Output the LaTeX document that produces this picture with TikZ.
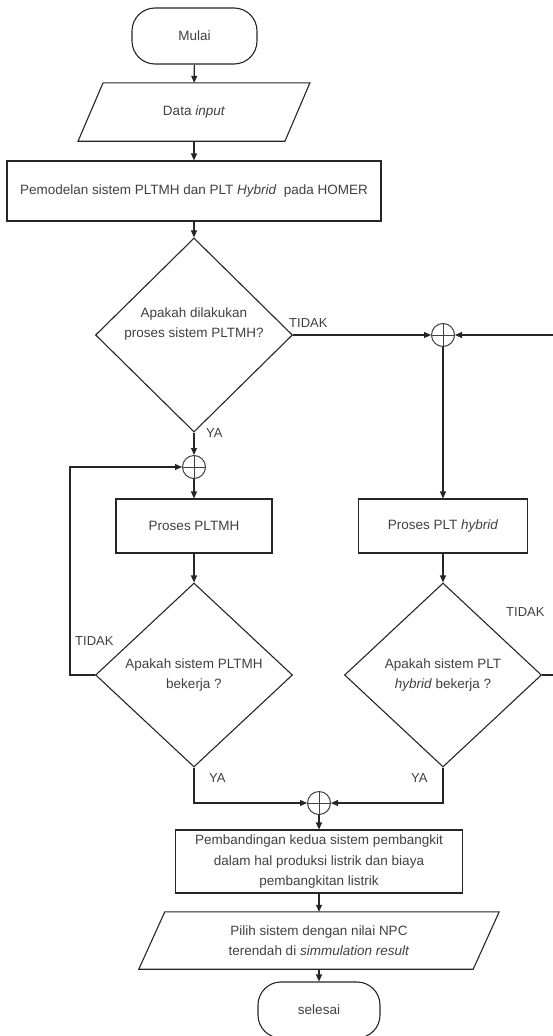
\documentclass[tikz,border=0pt]{standalone}
\usepackage{fontspec}
\setmainfont{Liberation Sans}
\usetikzlibrary{shapes.geometric,arrows.meta}
\begin{document}
\begin{tikzpicture}[x=1pt,y=-1pt,
 every node/.style={font=\fontsize{13.5}{20.5}\selectfont, text=black!75},
 line/.style={draw=black!85, line width=1.1pt},
 arr/.style={line, -{Triangle[length=7pt,width=6pt]}},
 term/.style={draw=black!85, line width=1.1pt, rectangle, rounded corners=23pt, minimum height=56pt, inner sep=0},
 proc/.style={draw=black!85, line width=1.1pt, rectangle, inner sep=0, align=center},
 dec/.style={draw=black!85, line width=1.1pt, diamond, minimum width=197pt, minimum height=184pt, inner sep=0, align=center},
 io/.style={rectangle, inner sep=0, align=center},
 sum/.style={circle, draw=black!75, line width=1pt, minimum size=23pt, inner sep=0,
   path picture={\draw[black!75, line width=1pt] (path picture bounding box.north) -- (path picture bounding box.south) (path picture bounding box.west) -- (path picture bounding box.east);}},
 lbl/.style={anchor=west, inner sep=0, font=\fontsize{13}{15}\selectfont}
]
\useasboundingbox (0,0) rectangle (553,1036);

% nodes
\node[term, minimum width=125pt] (mulai) at (194.5,36) {Mulai};
\node[io, minimum width=206.5pt, minimum height=58pt] (data) at (194,112) {Data \textit{input}};
\draw[line] ([xshift=12.5pt]data.north west) -- ([xshift=12.5pt]data.north east) -- ([xshift=-12.5pt]data.south east) -- ([xshift=-12.5pt]data.south west) -- cycle;
\node[proc, minimum width=374pt, minimum height=60pt] (model) at (194,191) {Pemodelan sistem PLTMH dan PLT \textit{Hybrid}~ pada HOMER};
\node[dec] (d1) at (194,335) {Apakah dilakukan\\proses sistem PLTMH?\\[4pt]};
\node[sum] (c1) at (443,335) {};
\node[sum] (c2) at (194,467) {};
\node[proc, minimum width=156pt, minimum height=54pt] (pltmh) at (194,526) {Proses PLTMH};
\node[proc, minimum width=169pt, minimum height=54pt] (hyb) at (443,526) {Proses PLT \textit{hybrid}};
\node[dec] (d2) at (194,675) {Apakah sistem PLTMH\\bekerja ?};
\node[dec] (d3) at (443,675) {Apakah sistem PLT\\\textit{hybrid} bekerja ?};
\node[sum] (c3) at (319,803) {};
\node[proc, minimum width=287pt, minimum height=63pt] (comp) at (319,861.5) {Pembandingan kedua sistem pembangkit\\dalam hal produksi listrik dan biaya\\pembangkitan listrik};
\node[io, minimum width=334pt, minimum height=57pt] (pilih) at (319,940.5) {Pilih sistem dengan nilai NPC\\terendah di \textit{simmulation result}};
\draw[line] ([xshift=13pt]pilih.north west) -- ([xshift=13pt]pilih.north east) -- ([xshift=-13pt]pilih.south east) -- ([xshift=-13pt]pilih.south west) -- cycle;
\node[term, minimum width=122pt] (selesai) at (319,1010) {selesai};

% labels
\node[lbl] (t1) at (289,323) {TIDAK};
\node[lbl] (y1) at (206,433) {YA};
\node[lbl] (t2) at (75,641) {TIDAK};
\node[lbl] (t3) at (506,612) {TIDAK};
\node[lbl] (y2) at (209,778) {YA};
\node[lbl] (y3) at (411,778) {YA};

% connectors
\coordinate (lp) at (70,675);
\coordinate (rp) at (558,675);
\draw[arr] (mulai) -- (data);
\draw[arr] (data) -- (model);
\draw[arr] (model) -- (d1);
\draw[arr] (d1) -- (c1);
\draw[arr] (d1) -- (c2);
\draw[arr] (c2) -- (pltmh);
\draw[arr] (pltmh) -- (d2);
\draw[arr] (d2.west) -- (lp) |- (c2);
\draw[arr] (c1) -- (hyb);
\draw[arr] (hyb) -- (d3);
\draw[arr] (d3.east) -- (rp) |- (c1);
\draw[arr] (d2.south) |- (c3);
\draw[arr] (d3.south) |- (c3);
\draw[arr] (c3) -- (comp);
\draw[arr] (comp) -- (pilih);
\draw[arr] (pilih) -- (selesai);
\end{tikzpicture}
\end{document}
